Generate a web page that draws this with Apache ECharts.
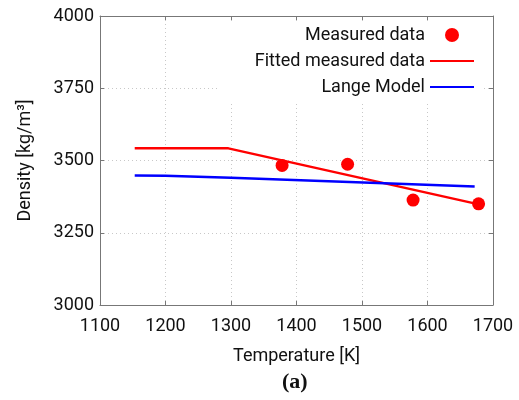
<!DOCTYPE html>
<html>
<head>
<meta charset="utf-8">
<script src="https://cdn.jsdelivr.net/npm/echarts@6/dist/echarts.min.js"></script>
<style>
  html, body { margin: 0; padding: 0; background: #fff; }
  #chart { width: 519px; height: 400px; }
</style>
</head>
<body>
<div id="chart"></div>
<script>
// measured points [T (K), density (kg/m3)]
const measured = [[1378, 3483], [1478, 3487], [1578, 3363], [1678, 3350]]
// fitted measured data
const fitted = [[1153, 3542], [1296, 3542], [1675, 3350]]
// Lange model
const lange = [[1153, 3448], [1200, 3447], [1300, 3440], [1672, 3410]]

const xTicks = [1100, 1700, 100]
const yTicks = [3000, 4000, 250]

const FONT = 'Roboto'
const axisCommon = {
  axisLine: { show: true, lineStyle: { color: '#777', width: 1 } },
  axisTick: { show: true, inside: true, length: 4, lineStyle: { color: '#777' } },
  splitLine: { show: true, lineStyle: { color: '#c8c8c8', type: [1, 3] } }
}

const chart = echarts.init(document.getElementById('chart'))
chart.setOption({
  animation: false,
  textStyle: { fontFamily: FONT },
  grid: { left: 100, right: 26, top: 16, bottom: 95 },
  legend: {
    orient: 'vertical',
    right: 38,
    top: 22,
    align: 'right',
    itemWidth: 44,
    itemHeight: 14,
    itemGap: 8,
    backgroundColor: '#fff',
    padding: [4, 6, 8, 36],
    textStyle: { fontFamily: FONT, fontSize: 18, color: '#111' },
    data: [
      { name: 'Measured data', icon: 'circle' },
      { name: 'Fitted measured data', itemStyle: { opacity: 0 } },
      { name: 'Lange Model', itemStyle: { opacity: 0 } }
    ]
  },
  xAxis: [{
    type: 'value',
    min: xTicks[0], max: xTicks[1], interval: xTicks[2],
    name: 'Temperature [K]',
    nameLocation: 'middle',
    nameGap: 42,
    nameTextStyle: { fontSize: 18, color: '#111' },
    axisLabel: { fontSize: 18, color: '#111', margin: 12, formatter: v => String(v) },
    ...axisCommon
  }, {
    type: 'value', position: 'top',
    min: xTicks[0], max: xTicks[1], interval: xTicks[2],
    axisLabel: { show: false },
    axisLine: axisCommon.axisLine,
    axisTick: axisCommon.axisTick,
    splitLine: { show: false }
  }],
  yAxis: [{
    type: 'value',
    min: yTicks[0], max: yTicks[1], interval: yTicks[2],
    name: 'Density [kg/m³]',
    nameLocation: 'middle',
    nameGap: 66,
    nameTextStyle: { fontSize: 18, color: '#111' },
    axisLabel: { fontSize: 18, color: '#111', margin: 6, formatter: v => String(v) },
    ...axisCommon
  }, {
    type: 'value', position: 'right',
    min: yTicks[0], max: yTicks[1], interval: yTicks[2],
    axisLabel: { show: false },
    axisLine: axisCommon.axisLine,
    axisTick: axisCommon.axisTick,
    splitLine: { show: false }
  }],
  series: [
    {
      name: 'Fitted measured data', type: 'line', data: fitted,
      showSymbol: false, symbol: 'none', z: 3,
      lineStyle: { color: '#ff0000', width: 2.5 }, itemStyle: { color: '#ff0000' }
    },
    {
      name: 'Lange Model', type: 'line', data: lange,
      showSymbol: false, symbol: 'none', z: 3,
      lineStyle: { color: '#0000ff', width: 2.5 }, itemStyle: { color: '#0000ff' }
    },
    {
      name: 'Measured data', type: 'scatter', data: measured,
      symbol: 'circle', symbolSize: 13, z: 4,
      itemStyle: { color: '#ff0000', opacity: 1 }
    }
  ],
  graphic: [{
    type: 'text',
    left: 282, top: 371,
    style: { text: '(a)', font: 'bold 22px "Liberation Serif", serif', fill: '#111' }
  }]
})
</script>
</body>
</html>
